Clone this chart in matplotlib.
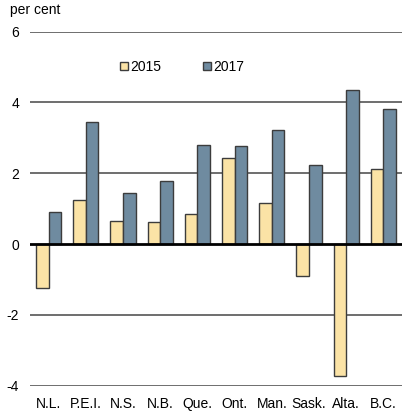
import matplotlib
matplotlib.use("Agg")
import matplotlib.pyplot as plt
from matplotlib.patches import Patch
import numpy as np

plt.rcParams['font.family'] = ['Liberation Sans', 'DejaVu Sans']

provinces = ["N.L.", "P.E.I.", "N.S.", "N.B.", "Que.", "Ont.", "Man.", "Sask.", "Alta.", "B.C."]
growth_2015 = [-1.25, 1.25, 0.66, 0.63, 0.85, 2.43, 1.15, -0.91, -3.72, 2.12]
growth_2017 = [0.89, 3.44, 1.43, 1.79, 2.79, 2.76, 3.23, 2.24, 4.36, 3.81]
yticks = [-4, -2, 0, 2, 4, 6]

col_2015 = '#FBE3A6'
col_2017 = '#6F8BA0'
edge = '#3c3c3c'

fig = plt.figure(figsize=(4.2, 4.18), dpi=100)
ax = fig.add_axes([0.0714, 0.0773, 0.8857, 0.8473])

x = np.arange(len(provinces))
w = 0.34
ax.bar(x - w / 2, growth_2015, w, color=col_2015, edgecolor=edge, linewidth=1, zorder=2)
ax.bar(x + w / 2, growth_2017, w, color=col_2017, edgecolor=edge, linewidth=1, zorder=2)

# horizontal grid, zero line drawn on top of bars
for t in yticks:
    if t == 0:
        ax.axhline(0, color='black', linewidth=2, zorder=3)
    else:
        ax.axhline(t, color='#555555', linewidth=1.2, zorder=1)

ax.set_xlim(-0.5, len(provinces) - 0.5)
ax.set_ylim(-4, 6)
ax.set_yticks(yticks)
ax.set_yticklabels([str(t) for t in yticks], fontsize=10)
ax.set_xticks(x)
ax.set_xticklabels(provinces, fontsize=10)
ax.tick_params(axis='both', length=0)
ax.tick_params(axis='y', pad=8)
ax.tick_params(axis='x', pad=8)
for s in ax.spines.values():
    s.set_visible(False)

fig.text(10 / 420, 1 - 10 / 418, "per cent", fontsize=10, ha='left', va='center')

handles = [Patch(facecolor=col_2015, edgecolor=edge, linewidth=1),
           Patch(facecolor=col_2017, edgecolor=edge, linewidth=1)]
ax.legend(handles, ["2015", "2017"], loc='center left', bbox_to_anchor=(0.242, 0.9),
          ncol=2, frameon=False, fontsize=10, handlelength=0.55, handleheight=0.55,
          handletextpad=0.2, columnspacing=3.0, borderpad=0, borderaxespad=0)

fig.savefig("out.png", dpi=100)
